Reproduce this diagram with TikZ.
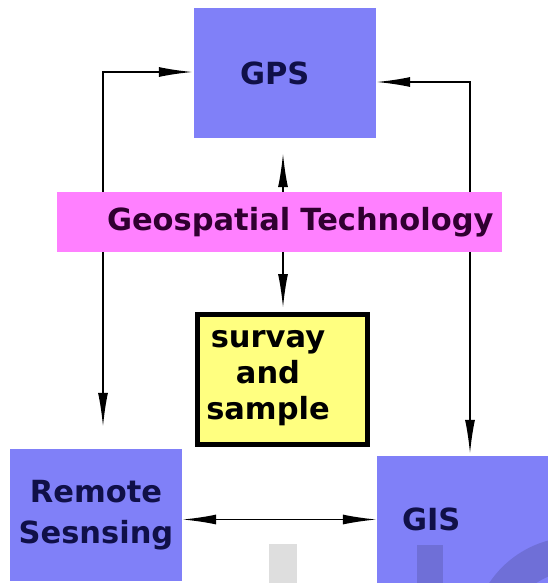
\documentclass[tikz,border=0pt]{standalone}
\usepackage{fontspec}
\setmainfont{DejaVu Sans}
\usetikzlibrary{arrows.meta}
\pgfdeclarelayer{behind}
\pgfsetlayers{behind,main}
\definecolor{boxblue}{RGB}{128,128,248}
\definecolor{barpink}{RGB}{255,128,255}
\definecolor{noteyellow}{RGB}{255,255,128}
\definecolor{navy}{RGB}{16,16,72}
\definecolor{plum}{RGB}{48,0,48}

\begin{document}
\begin{tikzpicture}[x=1pt,y=-1pt,
  every node/.style={font=\bfseries\fontsize{30.5}{36}\selectfont, inner sep=0pt},
  bluebox/.style={fill=boxblue, text=navy},
  link/.style={line width=1.8pt},
  >={Latex[length=34pt,width=10pt]}]
 \useasboundingbox (0,0) rectangle (548,583);

 \node (gps) [bluebox, minimum width=182pt, minimum height=130pt, text width=90pt, align=left] at (285,73) {GPS};
 \node (geo) [fill=barpink, text=plum, minimum width=445pt, minimum height=60pt, text width=428pt, align=right] at (279.5,222) {Geospatial Technology};
 \node (survey) [fill=noteyellow, draw=black, line width=5pt, minimum width=170pt, minimum height=130pt] at (282.5,379.5) {};
 \node (surveytext) [align=center] at (268,378) {survay\\and\\sample};
 \node (rs) [bluebox, minimum width=172pt, minimum height=132pt, align=center, font=\bfseries\fontsize{30.5}{41}\selectfont] at (96,515) {Remote\\Sesnsing};
 \node (gis) [bluebox, minimum width=190pt, minimum height=127pt, text width=140pt, align=left] at (472,519.5) {GIS};

 \coordinate (lknee) at (103,72);
 \coordinate (rknee) at (470,82);
 \coordinate (stem) at (283,0);

 \begin{pgfonlayer}{behind}
  \fill[white] (0,0) rectangle (548,583);
  \draw[link,<->,shorten <=1pt,shorten >=22pt] (gps.west |- lknee) -| (rs.north -| lknee);
  \draw[link,<->,shorten >=2pt] (gps.east |- rknee) -| (gis.north -| rknee);
  \draw[link,->,shorten >=15pt] (geo.north -| stem) -- (gps.south -| stem);
  \draw[link,->,shorten >=4pt] (geo.south -| stem) -- (survey.north -| stem);
  \draw[link,<->] (rs.east |- gis.west) -- (gis.west);
 \end{pgfonlayer}

 \fill[black,opacity=.13] (269,544) rectangle (297,583);
 \fill[black,opacity=.13] (417,545) rectangle (443,583);
 \fill[black,opacity=.13,even odd rule] (575,640) circle[radius=103pt] (580,650) circle[radius=80pt];
\end{tikzpicture}
\end{document}
